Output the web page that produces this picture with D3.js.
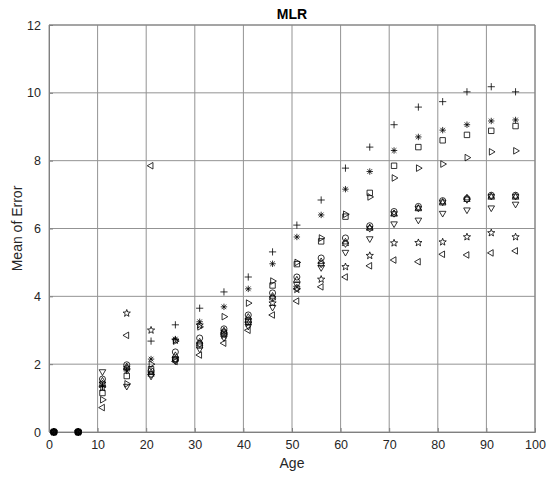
<!DOCTYPE html>
<html>
<head>
<meta charset="utf-8">
<script src="https://cdn.jsdelivr.net/npm/d3@7"></script>
<style>
  html, body { margin: 0; padding: 0; background: #fff; }
  svg { display: block; font-family: "Liberation Sans", Arial, Helvetica, sans-serif; }
</style>
</head>
<body>
<svg id="chart" width="547" height="477"></svg>
<script>
// Ages at which the mean error was evaluated
const ages = [1, 6, 11, 16, 21, 26, 31, 36, 41, 46, 51, 56, 61, 66, 71, 76, 81, 86, 91, 96];

// Mean of error per series (one array per marker type)
const plusVals     = [0, 0, 1.33, 1.85, 2.68, 3.16, 3.65, 4.13, 4.57, 5.31, 6.10, 6.84, 7.78, 8.40, 9.06, 9.58, 9.74, 10.03, 10.18, 10.03];
const asteriskVals = [0, 0, 1.38, 1.80, 2.15, 2.74, 3.25, 3.69, 4.22, 4.96, 5.75, 6.40, 7.16, 7.68, 8.30, 8.70, 8.90, 9.06, 9.17, 9.20];
const squareVals   = [0, 0, 1.15, 1.65, 1.85, 2.15, 2.55, 2.90, 3.25, 4.32, 4.95, 5.62, 6.35, 7.05, 7.85, 8.40, 8.60, 8.76, 8.88, 9.02];
const triRightVals = [0, 0, 0.95, 1.42, 2.00, 2.68, 3.10, 3.40, 3.80, 4.45, 5.00, 5.72, 6.42, 6.93, 7.49, 7.78, 7.90, 8.09, 8.26, 8.29];
const circleVals   = [0, 0, 1.56, 1.98, 1.80, 2.36, 2.77, 3.04, 3.45, 4.10, 4.57, 5.13, 5.72, 6.08, 6.50, 6.65, 6.82, 6.88, 6.98, 6.98];
const triUpVals    = [0, 0, 1.50, 1.92, 1.75, 2.25, 2.65, 2.98, 3.38, 4.00, 4.48, 5.02, 5.60, 6.02, 6.42, 6.58, 6.75, 6.90, 6.92, 6.92];
const hexagramVals = [0, 0, 1.42, 1.88, 1.70, 2.15, 2.60, 2.95, 3.30, 3.95, 4.25, 4.95, 5.55, 6.00, 6.44, 6.60, 6.78, 6.85, 6.95, 6.95];
const triDownVals  = [0, 0, 1.78, 1.35, 1.65, 2.10, 2.45, 2.78, 3.12, 3.68, 4.35, 4.85, 5.30, 5.70, 6.14, 6.25, 6.45, 6.55, 6.61, 6.72];
const pentagramVals= [0, 0, 1.30, 3.50, 3.00, 2.70, 3.15, 2.85, 3.20, 3.80, 4.20, 4.50, 4.87, 5.20, 5.57, 5.58, 5.60, 5.75, 5.87, 5.75];
const triLeftVals  = [0, 0, 0.72, 2.85, 7.85, 2.08, 2.27, 2.62, 3.00, 3.45, 3.86, 4.28, 4.57, 4.90, 5.07, 5.02, 5.24, 5.22, 5.28, 5.34];

// Axis tick values
const xTicks = [0, 10, 20, 30, 40, 50, 60, 70, 80, 90, 100];
const yTicks = [0, 2, 4, 6, 8, 10, 12];

// Marker path builders, centred on the origin
const markers = {
  plus: r => `M${-r},0H${r}M0,${-r}V${r}`,
  asterisk: r => {
    const d = r * 0.72;
    return `M${-r},0H${r}M0,${-r}V${r}M${-d},${-d}L${d},${d}M${-d},${d}L${d},${-d}`;
  },
  square: r => { const s = r * 0.8; return `M${-s},${-s}H${s}V${s}H${-s}Z`; },
  circle: r => { const c = r * 0.9; return `M${c},0A${c},${c} 0 1,1 ${-c},0A${c},${c} 0 1,1 ${c},0Z`; },
  triangle: (r, angle) => {
    const pts = [0, 1, 2].map(i => {
      const a = (angle + i * 120) * Math.PI / 180;
      return [r * Math.cos(a), r * Math.sin(a)];
    });
    return "M" + pts.map(p => p.join(",")).join("L") + "Z";
  },
  star: (r, n, inner) => {
    const pts = [];
    for (let i = 0; i < n * 2; i++) {
      const rr = i % 2 === 0 ? r : r * inner;
      const a = (-90 + i * 180 / n) * Math.PI / 180;
      pts.push([rr * Math.cos(a), rr * Math.sin(a)]);
    }
    return "M" + pts.map(p => p.join(",")).join("L") + "Z";
  }
};

const series = [
  { values: plusVals,      path: markers.plus(3.6) },
  { values: asteriskVals,  path: markers.asterisk(3.2) },
  { values: squareVals,    path: markers.square(3.4) },
  { values: triRightVals,  path: markers.triangle(3.8, 0) },
  { values: circleVals,    path: markers.circle(3.4) },
  { values: triUpVals,     path: markers.triangle(3.8, -90) },
  { values: hexagramVals,  path: markers.star(3.6, 6, 0.58) },
  { values: triDownVals,   path: markers.triangle(3.8, 90) },
  { values: pentagramVals, path: markers.star(3.8, 5, 0.42) },
  { values: triLeftVals,   path: markers.triangle(3.8, 180) }
];

const svg = d3.select("#chart");
const margin = { left: 49, right: 12, top: 25, bottom: 45 };
const width = 547 - margin.left - margin.right;
const height = 477 - margin.top - margin.bottom;

const x = d3.scaleLinear().domain([0, 100]).range([0, width]);
const y = d3.scaleLinear().domain([0, 12]).range([height, 0]);

const g = svg.append("g").attr("transform", `translate(${margin.left},${margin.top})`);

// Grid lines
g.append("g").selectAll("line.vgrid").data(xTicks).join("line")
  .attr("x1", d => x(d)).attr("x2", d => x(d))
  .attr("y1", 0).attr("y2", height)
  .attr("stroke", "#939393").attr("stroke-width", 1);
g.append("g").selectAll("line.hgrid").data(yTicks).join("line")
  .attr("x1", 0).attr("x2", width)
  .attr("y1", d => y(d)).attr("y2", d => y(d))
  .attr("stroke", "#939393").attr("stroke-width", 1);

// Axes (ticks point inward, box outline in grey)
const xAxis = g.append("g").attr("transform", `translate(0,${height})`)
  .call(d3.axisBottom(x).tickValues(xTicks).tickSize(-4).tickPadding(8).tickFormat(d3.format("d")));
const yAxis = g.append("g")
  .call(d3.axisLeft(y).tickValues(yTicks).tickSize(-4).tickPadding(8).tickFormat(d3.format("d")));
[xAxis, yAxis].forEach(a => {
  a.select(".domain").attr("stroke", "#808080");
  a.selectAll(".tick line").attr("stroke", "#808080");
  a.selectAll(".tick text").attr("fill", "#262626").attr("font-size", 12.5)
    .attr("font-family", '"Liberation Sans", Arial, sans-serif');
});
g.append("line").attr("x1", 0).attr("x2", width).attr("y1", 0).attr("y2", 0).attr("stroke", "#808080");
g.append("line").attr("x1", width).attr("x2", width).attr("y1", 0).attr("y2", height).attr("stroke", "#808080");

// Markers for every series
series.forEach(s => {
  g.append("g").selectAll("path").data(s.values.map((v, i) => [ages[i], v])).join("path")
    .attr("d", s.path)
    .attr("transform", d => `translate(${x(d[0])},${y(d[1])})`)
    .attr("fill", "none")
    .attr("stroke", "#000")
    .attr("stroke-width", 0.8);
});

// Title and axis labels
svg.append("text").attr("x", margin.left + width / 2).attr("y", 19)
  .attr("text-anchor", "middle").attr("font-size", 14).attr("font-weight", "bold")
  .attr("fill", "#000").text("MLR");
svg.append("text").attr("x", margin.left + width / 2).attr("y", 468)
  .attr("text-anchor", "middle").attr("font-size", 14).attr("fill", "#262626").text("Age");
svg.append("text")
  .attr("transform", `translate(22,${margin.top + height / 2}) rotate(-90)`)
  .attr("text-anchor", "middle").attr("font-size", 14).attr("fill", "#262626").text("Mean of Error");
</script>
</body>
</html>
